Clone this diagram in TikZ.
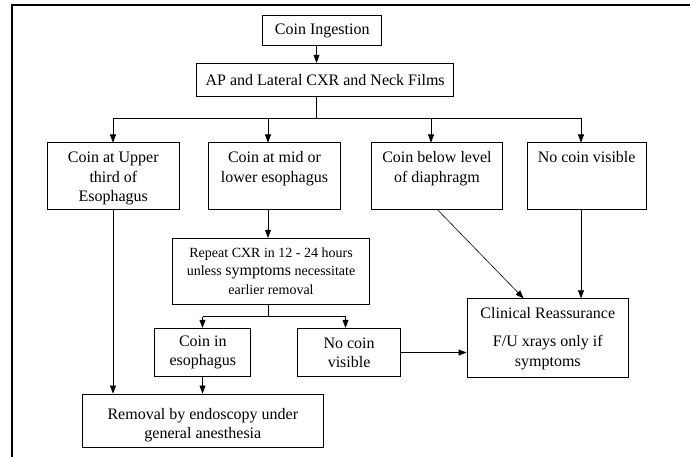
\documentclass[tikz,border=0pt]{standalone}
\usepackage{fontspec}
\setmainfont{Liberation Serif}
\usetikzlibrary{arrows.meta}
\newcommand\mytopbox[4][20pt]{\parbox[c][#3][t]{#2}{\centering\rule{0pt}{#1}#4}}
\begin{document}
\begin{tikzpicture}[x=1pt,y=-1pt,
  box/.style={draw, line width=0.9pt, inner sep=0pt, align=center},
  conn/.style={line width=0.6pt},
  arr/.style={conn, -{Triangle[length=8pt,width=6pt]}},
  fbig/.style={font=\fontsize{16}{19.5}\selectfont},
]
\useasboundingbox (0,0) rectangle (690,457);
\fill[white] (0,0) rectangle (690,457);
\draw[line width=2pt] (690,5) -- (11.5,5) -- (11.5,457);

% nodes
\node[box, fbig, minimum width=119.1pt, minimum height=30pt] (ci) at (322.25,30.7) {Coin Ingestion};
\node[box, fbig, minimum width=256.9pt, minimum height=32.7pt] (ap) at (325.15,79.65) {AP and Lateral CXR and Neck Films};

\node[box, fbig, anchor=north west] (b1) at (46.7,142.5) {\mytopbox{132.3pt}{66.5pt}{Coin at Upper\\third of\\Esophagus}};
\node[box, fbig, anchor=north west] (b2) at (208,142.5) {\mytopbox{132pt}{66.5pt}{Coin at mid or\\lower esophagus}};
\node[box, fbig, anchor=north west] (b3) at (371,142.5) {\mytopbox{131pt}{66.5pt}{Coin below level\\of diaphragm}};
\node[box, fbig, anchor=north west] (b4) at (526.6,142.5) {\mytopbox{119.2pt}{66.5pt}{No coin visible}};

\node[box, font=\fontsize{14}{18.7}\selectfont, minimum width=197.1pt, minimum height=65.7pt] (rep) at (271.05,271.15)
  {Repeat CXR in 12 - 24 hours\\unless {\fontsize{16}{18.7}\selectfont symptoms} necessitate\\earlier removal};

\node[box, fbig, anchor=north west] (clin) at (466.5,298.3) {\mytopbox{161.7pt}{78.4pt}{Clinical Reassurance\\[8.5pt]F/U xrays only if\\symptoms}};

\node[box, font=\fontsize{16}{19}\selectfont, minimum width=95.9pt, minimum height=48.4pt] (e1) at (202.85,352.5) {Coin in\\esophagus};
\node[box, font=\fontsize{16}{19}\selectfont, minimum width=102.6pt, minimum height=48.4pt] (e2) at (349.1,352.5) {No coin\\visible};

\node[box, font=\fontsize{16}{18.5}\selectfont, anchor=north west] (rem) at (82.3,393.5) {\mytopbox[26pt]{240.2pt}{53.5pt}{Removal by endoscopy under\\general anesthesia}};

% coordinates
\coordinate (hub) at (316.5,118.3);
\coordinate (h1) at (113,118.3);
\coordinate (h2) at (268,118.3);
\coordinate (h3) at (431,118.3);
\coordinate (h4) at (581,118.3);
\coordinate (s0) at (268,316.7);
\coordinate (s1) at (202.5,316.7);
\coordinate (s2) at (345.5,316.7);
\coordinate (d1) at (437.7,0);
\coordinate (d2) at (523.5,0);

% connectors
\draw[arr] (ci.south -| hub) -- (ap.north -| hub);
\draw[conn] (ap.south -| hub) -- (hub);
\draw[conn] (h1) -- (h4);
\draw[arr] (h1) -- (h1 |- b1.north);
\draw[arr] (h2) -- (h2 |- b2.north);
\draw[arr] (h3) -- (h3 |- b3.north);
\draw[arr] (h4) -- (h4 |- b4.north);

\draw[arr] (b1.south -| h1) -- (rem.north -| h1);
\draw[arr] (b2.south -| h2) -- (rep.north -| h2);
\draw[conn] (rep.south -| s0) -- (s0);
\draw[conn] (s1) -- (s2);
\draw[arr] (s1) -- (s1 |- e1.north);
\draw[arr] (s2) -- (s2 |- e2.north);
\draw[arr] (e1.south -| s1) -- (rem.north -| s1);
\draw[arr] (e2.east) -- (e2.east -| clin.west);
\draw[arr] (b3.south -| d1) -- (clin.north -| d2);
\draw[arr] (b4.south -| h4) -- (clin.north -| h4);
\end{tikzpicture}
\end{document}
